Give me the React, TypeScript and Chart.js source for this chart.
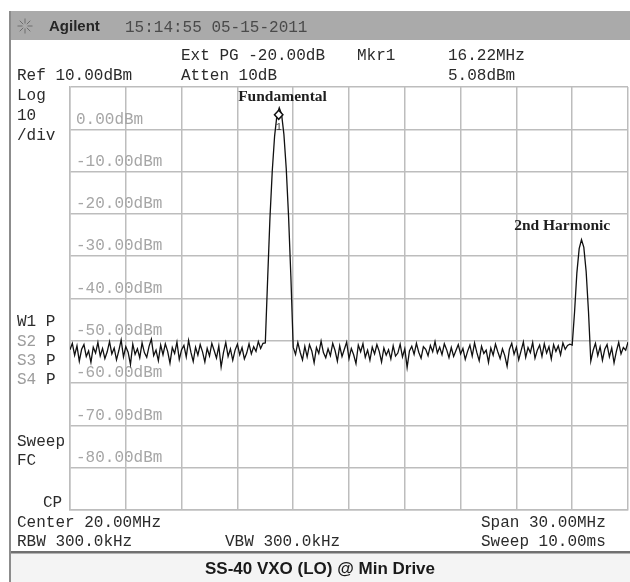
import React, { useEffect, useRef } from 'react';
import { Chart, registerables } from 'chart.js';

Chart.register(...registerables);

// ---- sweep / axes ----
const SWEEP_START_MHZ = 5;
const SWEEP_STEP_MHZ = 0.125;
const X_MIN = 5;
const X_MAX = 35;
const X_DIV = 3;
const Y_MIN = -90;
const Y_MAX = 10;
const Y_DIV = 10;
const Y_LABELED = [0, -10, -20, -30, -40, -50, -60, -70, -80];

// ---- trace levels (dBm), one per sweep point ----
const noiseLeft = [
  -52.1, -50.6, -53.4, -51.2, -54.8, -52.0, -50.9, -53.7, -52.4, -55.1, -51.5, -52.9, -50.4, -53.6, -51.8, -54.2, -52.6, -50.2, -53.1, -51.7,
  -54.5, -52.3, -49.8, -53.8, -51.4, -52.7, -55.6, -50.8, -53.2, -51.9, -54.0, -50.5, -52.8, -53.9, -51.3, -49.6, -53.5, -52.2, -54.7, -51.0,
  -53.3, -50.7, -52.5, -55.3, -51.6, -53.0, -50.3, -54.4, -52.1, -51.1, -53.8, -49.9, -52.7, -54.9, -51.5, -53.4, -50.9, -52.6, -55.0, -51.8,
  -53.6, -50.6, -52.3, -54.1, -51.2, -56.2, -52.8, -50.4, -53.7, -51.9, -54.6, -52.2, -50.8, -53.3, -51.6, -54.3, -52.9, -50.7, -53.1, -51.4,
  -52.5, -50.2, -51.8, -50.6,
];
const fundamentalPeak = [-50.5, -35.5, -21.0, -9.8, -1.6, 3.3, 5.08, 3.6, -1.2, -9.2, -20.5, -34.8, -51.5];
const noiseMid = [
  -53.2, -50.4, -52.7, -54.5, -51.3, -53.8, -50.9, -52.4, -55.2, -51.6, -53.0, -50.1, -52.8, -54.0, -51.9, -53.5, -50.6, -52.3, -54.8, -51.2,
  -53.7, -52.0, -50.3, -54.2, -51.8, -53.3, -55.4, -51.0, -52.6, -50.7, -53.9, -52.2, -54.6, -51.5, -53.1, -50.9, -52.5, -55.0, -51.7, -53.4,
  -52.1, -54.3, -51.2, -53.6, -52.9, -50.8, -53.8, -51.9, -56.3, -52.4, -51.3, -53.2, -50.6, -52.7, -54.1, -51.4, -52.0, -53.5, -51.1, -52.6,
  -50.2, -52.9, -51.5, -53.3, -50.7, -52.1, -54.0, -51.6, -53.7, -52.3, -50.9, -53.1, -51.8, -54.4, -52.5, -51.0, -53.6, -50.5, -52.8, -54.7,
  -51.3, -53.0, -52.2, -55.1, -51.7, -53.4, -50.8, -52.6, -54.2, -51.9, -53.5, -56.0, -52.0, -50.6, -53.2, -51.5, -54.5, -52.4, -50.3, -53.9,
  -51.6, -52.8, -50.4, -54.1, -52.2, -51.0, -53.7, -50.7, -52.9, -51.4, -54.3, -50.9, -52.5, -51.2, -53.3, -50.5, -52.0, -51.1, -50.8,
];
const harmonicPeak = [-51.0, -43.3, -34.0, -28.2, -26.1, -27.9, -33.6, -43.0, -54.8];
const noiseRight = [-52.3, -50.6, -53.5, -51.4, -54.6, -52.0, -50.9, -53.8, -51.7, -55.2, -52.5, -50.4, -53.1, -51.6, -52.2, -50.3];

const traceLevels = [...noiseLeft, ...fundamentalPeak, ...noiseMid, ...harmonicPeak, ...noiseRight];

// ---- marker & annotations ----
const MARKER_FREQ = 16.22;
const MARKER_LEVEL = 5.08;
const MARKER_NAME = '1';
const annotationTexts = ['Fundamental', '2nd Harmonic'];
const annotationFreqs = [14.04, 28.88];
const annotationLevels = [6.76, -23.76];

// ---- instrument text ----
const MONO = '16px "Liberation Mono", "DejaVu Sans Mono", monospace';
const DARK = '#2b2b2b';
const DIM = '#9c9c9c';
type T = { s: string; x: number; y: number; c?: string };
const panelTexts: T[] = [
  { s: 'Ext PG -20.00dB', x: 181, y: 60 },
  { s: 'Mkr1', x: 357, y: 60 },
  { s: '16.22MHz', x: 448, y: 60 },
  { s: 'Ref 10.00dBm', x: 17, y: 80 },
  { s: 'Atten 10dB', x: 181, y: 80 },
  { s: '5.08dBm', x: 448, y: 80 },
  { s: 'Log', x: 17, y: 100 },
  { s: '10', x: 17, y: 120 },
  { s: '/div', x: 17, y: 140 },
  { s: 'W1 P', x: 17, y: 326 },
  { s: 'S2', x: 17, y: 346, c: DIM },
  { s: 'P', x: 46, y: 346 },
  { s: 'S3', x: 17, y: 365, c: DIM },
  { s: 'P', x: 46, y: 365 },
  { s: 'S4', x: 17, y: 384, c: DIM },
  { s: 'P', x: 46, y: 384 },
  { s: 'Sweep', x: 17, y: 446 },
  { s: 'FC', x: 17, y: 465 },
  { s: 'CP', x: 43, y: 507 },
  { s: 'Center 20.00MHz', x: 17, y: 527 },
  { s: 'Span 30.00MHz', x: 481, y: 527 },
  { s: 'RBW 300.0kHz', x: 17, y: 546 },
  { s: 'VBW 300.0kHz', x: 225, y: 546 },
  { s: 'Sweep 10.00ms', x: 481, y: 546 },
];
const HEADER_BRAND = 'Agilent';
const HEADER_TIME = '15:14:55 05-15-2011';
const FOOTER_TITLE = 'SS-40 VXO (LO) @ Min Drive';

const W = 630;
const H = 582;

const framePlugin = {
  id: 'frame',
  beforeDraw(chart: any) {
    const ctx = chart.ctx as CanvasRenderingContext2D;
    ctx.save();
    ctx.fillStyle = '#ffffff';
    ctx.fillRect(0, 0, W, H);
    ctx.fillStyle = '#aaaaaa';
    ctx.fillRect(10, 11, W - 10, 29);
    ctx.fillStyle = '#f4f4f4';
    ctx.fillRect(10, 553, W - 10, H - 553);
    ctx.fillStyle = '#707070';
    ctx.fillRect(10, 551, W - 10, 2.5);
    ctx.fillStyle = '#8c8c8c';
    ctx.fillRect(9, 11, 2, H - 11);
    ctx.restore();
  },
  afterDraw(chart: any) {
    const ctx = chart.ctx as CanvasRenderingContext2D;
    const xs = chart.scales.x;
    const ys = chart.scales.y;
    ctx.save();
    // header star
    ctx.strokeStyle = '#6e6e6e';
    ctx.lineWidth = 1;
    const cx = 25, cy = 26;
    for (let k = 0; k < 8; k++) {
      const a = (k * Math.PI) / 4;
      ctx.beginPath();
      ctx.moveTo(cx + Math.cos(a) * 2.5, cy + Math.sin(a) * 2.5);
      ctx.lineTo(cx + Math.cos(a) * 7.5, cy + Math.sin(a) * 7.5);
      ctx.stroke();
    }
    ctx.textBaseline = 'alphabetic';
    ctx.textAlign = 'left';
    ctx.fillStyle = '#262626';
    ctx.font = 'bold 15px "Liberation Sans", Arial, sans-serif';
    ctx.fillText(HEADER_BRAND, 49, 31);
    ctx.fillStyle = '#4a4a4a';
    ctx.font = MONO;
    ctx.fillText(HEADER_TIME, 125, 32);
    // panel texts
    for (const t of panelTexts) {
      ctx.fillStyle = t.c || DARK;
      ctx.fillText(t.s, t.x, t.y);
    }
    // footer title
    ctx.fillStyle = '#1a1a1a';
    ctx.font = 'bold 17px "Liberation Sans", Arial, sans-serif';
    ctx.textAlign = 'center';
    ctx.fillText(FOOTER_TITLE, 320, 574);
    // annotations
    ctx.textAlign = 'left';
    ctx.fillStyle = '#1e1e1e';
    ctx.font = 'bold 15.5px "Liberation Serif", "Times New Roman", serif';
    annotationTexts.forEach((s, i) => {
      ctx.fillText(s, xs.getPixelForValue(annotationFreqs[i]), ys.getPixelForValue(annotationLevels[i]));
    });
    // marker diamond
    const mx = xs.getPixelForValue(MARKER_FREQ);
    const my = ys.getPixelForValue(MARKER_LEVEL) + 7;
    ctx.beginPath();
    ctx.moveTo(mx, my - 4.5);
    ctx.lineTo(mx + 4.2, my);
    ctx.lineTo(mx, my + 4.5);
    ctx.lineTo(mx - 4.2, my);
    ctx.closePath();
    ctx.fillStyle = '#ffffff';
    ctx.fill();
    ctx.strokeStyle = '#111';
    ctx.lineWidth = 1.5;
    ctx.stroke();
    ctx.fillStyle = '#333';
    ctx.font = '10px "Liberation Mono", monospace';
    ctx.textAlign = 'center';
    ctx.fillText(MARKER_NAME, mx, my + 15);
    ctx.restore();
  },
};

export default function App() {
  const ref = useRef<HTMLCanvasElement | null>(null);
  useEffect(() => {
    if (!ref.current) return;
    const points = traceLevels.map((v, i) => ({ x: SWEEP_START_MHZ + i * SWEEP_STEP_MHZ, y: v }));
    const gridColor = '#bdbdbd';
    const chart = new Chart(ref.current, {
      type: 'line',
      data: {
        datasets: [
          {
            data: points,
            borderColor: '#111111',
            borderWidth: 1.3,
            pointRadius: 0,
            tension: 0,
            fill: false,
          },
        ],
      },
      options: {
        animation: false,
        responsive: false,
        maintainAspectRatio: false,
        layout: { padding: { left: 70, right: 2, top: 87, bottom: 72 } },
        plugins: { legend: { display: false }, tooltip: { enabled: false } },
        scales: {
          x: {
            type: 'linear',
            min: X_MIN,
            max: X_MAX,
            ticks: { display: false, stepSize: X_DIV },
            grid: { color: gridColor, lineWidth: 1.5, drawTicks: false },
            border: { display: true, color: gridColor, width: 1.5 },
            afterFit: (s: any) => { s.height = 0; },
          },
          y: {
            type: 'linear',
            min: Y_MIN,
            max: Y_MAX,
            ticks: {
              stepSize: Y_DIV,
              mirror: true,
              padding: 6,
              labelOffset: -10,
              color: '#a6a6a6',
              font: { family: '"Liberation Mono", "DejaVu Sans Mono", monospace', size: 16 },
              autoSkip: false,
              callback: (v: any) => (Y_LABELED.includes(Number(v)) ? Number(v).toFixed(2) + 'dBm' : ''),
            },
            grid: { color: gridColor, lineWidth: 1.5, drawTicks: false },
            border: { display: true, color: gridColor, width: 1.5 },
            afterFit: (s: any) => { s.width = 0; },
          },
        },
      },
      plugins: [framePlugin],
    });
    return () => chart.destroy();
  }, []);
  return (
    <div style={{ position: 'fixed', left: 0, top: 0, width: W, height: H, background: '#fff' }}>
      <canvas ref={ref} width={W} height={H} style={{ display: 'block', width: W, height: H }} />
    </div>
  );
}
